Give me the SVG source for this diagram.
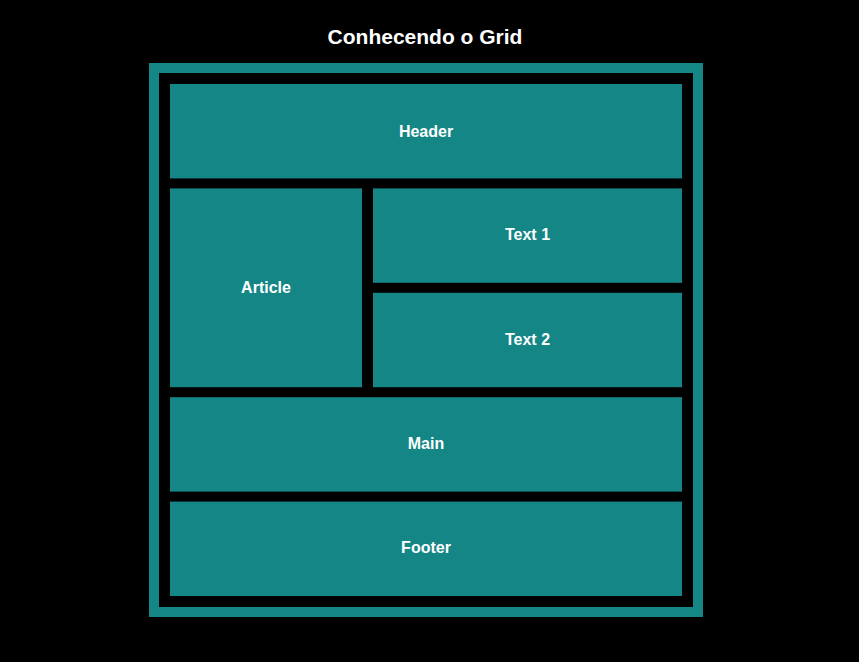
<svg xmlns="http://www.w3.org/2000/svg" width="859" height="662" viewBox="0 0 859 662">
  <style>
    .cell { fill: #148686; }
    .lbl { font-family: "Liberation Sans", Arial, sans-serif; font-weight: bold; font-size: 16px; fill: #ffffff; text-anchor: middle; }
    .title { font-family: "Liberation Sans", Arial, sans-serif; font-weight: bold; font-size: 21px; fill: #ffffff; text-anchor: middle; }
  </style>
  <rect x="0" y="0" width="859" height="662" fill="#000000"/>
  <text class="title" x="425" y="44">Conhecendo o Grid</text>
  <g id="container">
    <rect x="154" y="68" width="544" height="544" fill="#000000" stroke="#148686" stroke-width="10"/>
  </g>
  <g id="header">
    <rect class="cell" x="170" y="84" width="512" height="94.4"/>
    <text class="lbl" x="426" y="136.5">Header</text>
  </g>
  <g id="article">
    <rect class="cell" x="170" y="188.4" width="192" height="198.8"/>
    <text class="lbl" x="266" y="293.3">Article</text>
  </g>
  <g id="text1">
    <rect class="cell" x="373" y="188.4" width="309" height="94.4"/>
    <text class="lbl" x="527.5" y="240.1">Text 1</text>
  </g>
  <g id="text2">
    <rect class="cell" x="373" y="292.8" width="309" height="94.4"/>
    <text class="lbl" x="527.5" y="344.5">Text 2</text>
  </g>
  <g id="main">
    <rect class="cell" x="170" y="397.2" width="512" height="94.4"/>
    <text class="lbl" x="426" y="448.9">Main</text>
  </g>
  <g id="footer">
    <rect class="cell" x="170" y="501.6" width="512" height="94.4"/>
    <text class="lbl" x="426" y="553.3">Footer</text>
  </g>
  <g id="connectors"></g>
</svg>
